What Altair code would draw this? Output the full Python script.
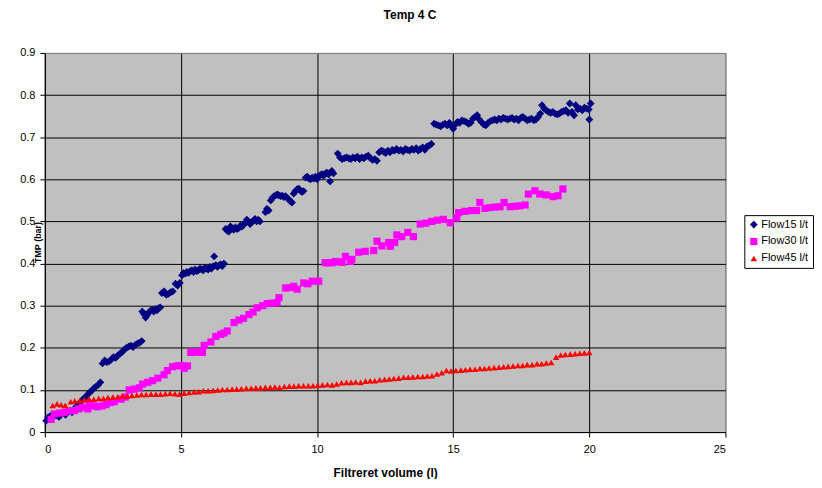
import altair as alt
import pandas as pd

# ---- Flow15 l/t (navy diamonds), read in segments ----
f15_x_a = [0.05,0.12,0.2,0.28,0.36,0.44,0.52,0.6,0.68,0.76,0.84,0.92,1.0,1.08,1.16,1.24,1.32,1.4,1.48,1.56,1.64,1.72,1.8,1.88,1.96,2.04]
f15_y_a = [0.027,0.035,0.038,0.034,0.042,0.040,0.036,0.044,0.046,0.041,0.048,0.050,0.047,0.055,0.060,0.066,0.072,0.078,0.082,0.088,0.094,0.098,0.104,0.108,0.112,0.118]
f15_x_b = [2.12,2.2,2.28,2.36,2.44,2.52,2.6,2.68,2.76,2.84,2.92,3.0,3.08,3.16,3.24,3.32,3.4,3.48,3.56]
f15_y_b = [0.163,0.170,0.166,0.168,0.172,0.178,0.176,0.182,0.186,0.190,0.196,0.200,0.203,0.205,0.202,0.207,0.210,0.212,0.216]
f15_x_c = [3.58,3.64,3.7,3.76,3.82,3.88,3.94,4.0,4.06,4.12,4.18,4.24]
f15_y_c = [0.286,0.280,0.272,0.278,0.284,0.288,0.290,0.286,0.292,0.289,0.294,0.296]
f15_x_d = [4.3,4.38,4.46,4.54,4.62,4.7,4.8,4.88,4.96]
f15_y_d = [0.330,0.334,0.326,0.328,0.332,0.334,0.352,0.348,0.354]
f15_x_e = [5.04,5.1,5.16,5.22,5.28,5.34,5.4,5.46,5.52,5.58,5.64,5.7,5.76,5.82,5.88,5.94,6.0,6.06,6.12,6.18,6.22,6.28,6.34,6.4,6.46,6.52,6.58]
f15_y_e = [0.372,0.378,0.376,0.380,0.378,0.382,0.384,0.380,0.386,0.382,0.384,0.388,0.386,0.384,0.390,0.388,0.386,0.392,0.388,0.394,0.417,0.396,0.392,0.396,0.398,0.394,0.400]
f15_x_f = [6.64,6.7,6.76,6.82,6.88,6.94,7.0,7.06,7.12,7.18,7.24,7.3,7.36,7.42,7.48,7.54,7.6,7.66,7.72,7.78,7.84,7.9]
f15_y_f = [0.482,0.478,0.476,0.488,0.484,0.480,0.486,0.482,0.484,0.490,0.488,0.492,0.496,0.504,0.500,0.494,0.498,0.502,0.506,0.500,0.504,0.500]
f15_x_g = [8.1,8.16,8.22,8.3,8.36,8.42,8.48,8.54,8.6,8.66,8.72,8.78,8.84,8.9,8.96,9.02,9.08,9.14,9.2,9.26,9.32,9.38,9.44,9.5]
f15_y_g = [0.522,0.530,0.526,0.550,0.556,0.560,0.562,0.564,0.562,0.560,0.561,0.558,0.560,0.556,0.552,0.548,0.545,0.566,0.572,0.576,0.578,0.574,0.570,0.572]
f15_x_h = [9.58,9.64,9.7,9.76,9.82,9.88,9.94,10.0,10.06,10.12,10.18,10.24,10.3,10.36,10.42,10.48,10.54,10.6]
f15_y_h = [0.604,0.606,0.602,0.600,0.604,0.602,0.606,0.600,0.608,0.610,0.612,0.608,0.614,0.616,0.612,0.595,0.620,0.614]
f15_x_i = [10.76,10.84,10.92,11.0,11.08,11.16,11.24,11.32,11.4,11.48,11.56,11.64,11.72,11.8,11.88,11.96,12.04,12.12,12.2,12.28,12.36,12.44,
           12.52,12.6,12.68,12.76,12.84,12.92,13.0,13.08,13.16,13.24,13.32,13.4,13.48,13.56,13.64,13.72,13.8,13.88,13.96,14.04,14.12,14.2]
f15_y_i = [0.661,0.652,0.648,0.650,0.652,0.650,0.648,0.652,0.650,0.654,0.648,0.652,0.650,0.654,0.656,0.650,0.646,0.648,0.644,0.664,0.668,0.666,
           0.662,0.668,0.664,0.670,0.668,0.672,0.668,0.670,0.666,0.672,0.670,0.668,0.672,0.670,0.674,0.668,0.672,0.676,0.670,0.678,0.680,0.684]
f15_x_j = [14.3,14.38,14.46,14.54,14.62,14.7,14.78,14.86,14.94,15.0,15.08,15.16,15.24,15.32,15.4,15.48,15.56,15.64,15.72,15.8,15.88,15.96,
           16.04,16.12,16.2,16.28,16.36,16.44,16.52,16.6,16.68,16.76,16.84,16.92,17.0,17.08,17.16,17.24,17.32,17.4,17.48,17.56,17.64,17.72,
           17.8,17.88,17.96,18.04,18.12]
f15_y_j = [0.732,0.730,0.728,0.726,0.730,0.732,0.728,0.734,0.726,0.720,0.730,0.736,0.734,0.740,0.738,0.736,0.732,0.734,0.744,0.748,0.752,0.742,
           0.736,0.730,0.728,0.734,0.738,0.740,0.742,0.740,0.744,0.742,0.746,0.744,0.742,0.744,0.746,0.742,0.744,0.740,0.746,0.748,0.744,0.740,
           0.742,0.744,0.740,0.742,0.748]
f15_x_k = [18.2,18.26,18.34,18.42,18.5,18.58,18.66,18.74,18.82,18.9,18.98,19.06,19.14,19.22,19.28,19.36,19.44,19.5,19.58,19.66,19.74,19.82,19.9,19.98,20.0,20.05]
f15_y_k = [0.756,0.776,0.768,0.764,0.760,0.758,0.760,0.756,0.754,0.756,0.760,0.762,0.764,0.758,0.780,0.760,0.752,0.776,0.766,0.768,0.764,0.770,0.768,0.766,0.742,0.780]

# ---- Flow30 l/t (magenta squares) ----
f30_x = [0.23,0.35,0.55,0.72,0.9,1.09,1.25,1.39,1.58,1.64,
         1.8,1.94,2.1,2.25,2.4,2.55,2.8,2.95,3.1,3.28,
         3.47,3.59,3.78,3.96,4.15,4.38,4.5,4.69,4.85,5.0,
         5.12,5.24,5.36,5.48,5.6,5.79,5.85,6.1,6.28,6.46,
         6.58,6.7,6.95,7.13,7.3,7.5,7.65,7.8,8.0,8.17,
         8.35,8.53,8.6,8.84,9.0,9.14,9.27,9.51,9.66,9.82,
         10.06,10.3,10.42,10.55,10.67,10.8,10.92,11.04,11.22,11.28,
         11.53,11.77,12.08,12.2,12.38,12.63,12.69,12.85,12.93,13.11,
         13.33,13.54,13.79,14.0,14.21,14.42,14.64,14.89,15.13,15.2,
         15.43,15.68,15.86,15.98,16.17,16.35,16.53,16.72,16.87,17.09,
         17.27,17.45,17.64,17.76,18.0,18.18,18.42,18.67,18.85,19.03]
f30_y = [0.030,0.043,0.045,0.047,0.050,0.051,0.055,0.059,0.055,0.066,
         0.062,0.060,0.062,0.065,0.070,0.072,0.078,0.083,0.100,0.102,
         0.105,0.114,0.118,0.122,0.128,0.136,0.146,0.155,0.157,0.158,
         0.151,0.157,0.189,0.190,0.190,0.189,0.206,0.214,0.227,0.232,
         0.235,0.240,0.260,0.266,0.270,0.279,0.285,0.295,0.300,0.305,
         0.306,0.307,0.319,0.342,0.343,0.346,0.339,0.354,0.352,0.358,
         0.358,0.402,0.402,0.402,0.405,0.404,0.403,0.417,0.405,0.410,
         0.427,0.429,0.431,0.453,0.442,0.450,0.441,0.450,0.468,0.464,
         0.474,0.464,0.494,0.496,0.500,0.503,0.505,0.497,0.508,0.521,
         0.524,0.526,0.526,0.545,0.531,0.533,0.534,0.535,0.545,0.535,
         0.536,0.537,0.539,0.565,0.573,0.565,0.563,0.559,0.561,0.577]

# ---- Flow45 l/t (red triangles) ----
f45_x = [0.29,0.45,0.6,0.75,0.95,1.1,1.28,1.45,1.62,1.8,
         1.98,2.15,2.32,2.5,2.68,2.85,3.02,3.2,3.38,3.55,
         3.72,3.9,4.08,4.25,4.43,4.6,4.78,4.95,5.12,5.3,
         5.48,5.65,5.82,6.0,6.18,6.35,6.52,6.7,6.88,7.05,
         7.22,7.4,7.58,7.75,7.92,8.1,8.28,8.45,8.62,8.8,
         8.98,9.15,9.32,9.5,9.68,9.85,10.02,10.2,10.38,10.55,
         10.72,10.9,11.08,11.25,11.42,11.6,11.78,11.95,12.12,12.3,
         12.48,12.65,12.82,13.0,13.18,13.35,13.52,13.7,13.88,14.05,
         14.22,14.4,14.58,14.75,14.92,15.1,15.28,15.45,15.62,15.8,
         15.98,16.15,16.32,16.5,16.68,16.85,17.02,17.2,17.38,17.55,
         17.72,17.9,18.08,18.25,18.42,18.6,18.78,18.95,19.12,19.3,
         19.48,19.65,19.82,20.0]
f45_y = [0.063,0.067,0.065,0.063,0.072,0.074,0.075,0.077,0.079,0.078,
         0.080,0.080,0.082,0.083,0.084,0.086,0.086,0.087,0.088,0.089,
         0.089,0.090,0.090,0.090,0.091,0.092,0.091,0.090,0.092,0.094,
         0.095,0.096,0.098,0.098,0.099,0.100,0.101,0.101,0.102,0.102,
         0.103,0.104,0.104,0.105,0.105,0.106,0.106,0.107,0.106,0.108,
         0.109,0.109,0.110,0.110,0.110,0.110,0.111,0.112,0.113,0.112,
         0.114,0.117,0.118,0.118,0.119,0.118,0.121,0.122,0.122,0.124,
         0.125,0.126,0.127,0.128,0.130,0.130,0.131,0.132,0.132,0.133,
         0.134,0.138,0.141,0.146,0.145,0.146,0.147,0.148,0.149,0.149,
         0.151,0.151,0.152,0.153,0.154,0.155,0.156,0.157,0.158,0.158,
         0.160,0.160,0.162,0.162,0.164,0.165,0.178,0.183,0.184,0.185,
         0.186,0.187,0.188,0.189]

series_names = ["Flow15 l/t", "Flow30 l/t", "Flow45 l/t"]
series_colors = ["#000080", "#FF00FF", "#FF0000"]
series_shapes = ["diamond", "square", "triangle-up"]
series_sizes = [62, 42, 62]
x_ticks = [0, 5, 10, 15, 20, 25]
y_ticks = [0, 0.1, 0.2, 0.3, 0.4, 0.5, 0.6, 0.7, 0.8, 0.9]

f15_x = f15_x_a + f15_x_b + f15_x_c + f15_x_d + f15_x_e + f15_x_f + f15_x_g + f15_x_h + f15_x_i + f15_x_j + f15_x_k
f15_y = f15_y_a + f15_y_b + f15_y_c + f15_y_d + f15_y_e + f15_y_f + f15_y_g + f15_y_h + f15_y_i + f15_y_j + f15_y_k

rows = []
for name, xs, ys in [(series_names[0], f15_x, f15_y),
                     (series_names[1], f30_x, f30_y),
                     (series_names[2], f45_x, f45_y)]:
    for xv, yv in zip(xs, ys):
        rows.append({"vol": xv, "tmp": yv, "series": name})
df = pd.DataFrame(rows)

FONT = "Liberation Sans"

legend_kw = dict(
    title=None, orient="none", legendX=703, legendY=163,
    strokeColor="black", fillColor="white", padding=4, cornerRadius=0,
    labelFont=FONT, labelFontSize=11, labelColor="black",
    symbolSize=45, symbolStrokeWidth=0, rowPadding=5, labelOffset=2,
)

chart = alt.Chart(df).mark_point(filled=True, opacity=1, strokeWidth=0).encode(
    x=alt.X("vol:Q",
            scale=alt.Scale(domain=[0, 25], nice=False, zero=True),
            axis=alt.Axis(values=x_ticks, title="Filtreret volume (l)", labelPadding=7,
                          gridColor={"condition": {"test": "datum.value >= 25", "value": "#808080"}, "value": "black"},
                          titleY=41, titleBaseline="middle", titleFontSize=12)),
    y=alt.Y("tmp:Q",
            scale=alt.Scale(domain=[0, 0.9], nice=False),
            axis=alt.Axis(values=y_ticks, format="~g", title="TMP (bar)", labelPadding=5,
                          gridColor={"condition": {"test": "datum.value >= 0.89", "value": "#808080"}, "value": "black"},
                          titleX=-7, titleY=190, titleAngle=-90, titleBaseline="middle", titleFontSize=9)),
    color=alt.Color("series:N", scale=alt.Scale(domain=series_names, range=series_colors),
                    legend=alt.Legend(**legend_kw)),
    shape=alt.Shape("series:N", scale=alt.Scale(domain=series_names, range=series_shapes),
                    legend=alt.Legend(**legend_kw)),
    size=alt.Size("series:N", scale=alt.Scale(domain=series_names, range=series_sizes), legend=None),
).properties(
    width=684, height=381,
    title=alt.TitleParams("Temp 4 C", font=FONT, fontSize=12, fontWeight="bold",
                          anchor="middle", offset=25, dx=25, color="black"),
    autosize=alt.AutoSizeParams(type="none"),
    padding={"left": 37, "top": 44, "right": 89, "bottom": 46},
).configure(
    background="white",
).configure_view(
    fill="#C0C0C0", stroke="#808080", strokeWidth=1,
).configure_axis(
    grid=True, gridWidth=1, gridOpacity=1,
    domainColor="black", domainWidth=1,
    tickColor="black", tickSize=5, tickWidth=1,
    labelFont=FONT, labelFontSize=11, labelColor="black",
    titleFont=FONT, titleFontWeight="bold", titleColor="black",
)

chart.save("out.html", embed_options={"renderer": "svg", "actions": False})
